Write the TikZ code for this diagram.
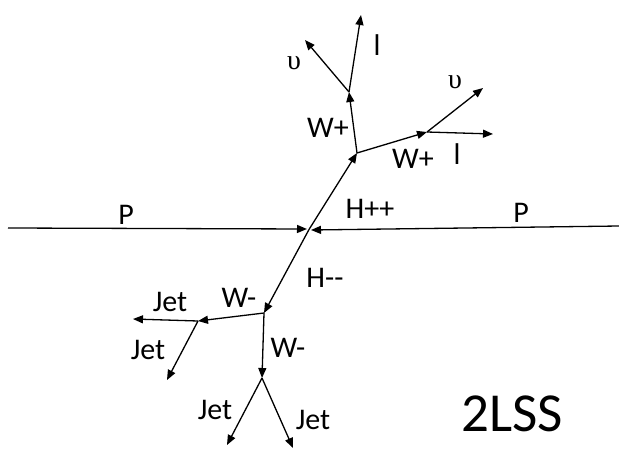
\documentclass[tikz,border=0pt]{standalone}
\usepackage{fontspec}
\setmainfont{Carlito}
\newfontfamily\upsfont{Liberation Serif}
\usetikzlibrary{arrows.meta}
\begin{document}
\begin{tikzpicture}[x=1pt,y=-1pt,
  arr/.style={line width=1.3pt,-{Triangle[length=10pt,width=8pt]}},
  lbl/.style={font=\fontsize{30}{32}\selectfont, inner sep=0pt},
  ups/.style={font=\upsfont\fontsize{28}{30}\selectfont, inner sep=0pt},
  big/.style={font=\fontsize{55}{58}\selectfont, inner sep=0pt}]
\useasboundingbox (0,0) rectangle (619,450);
% protons and collision point
\coordinate (pl) at (8,228);
\coordinate (pr) at (619,226);
\coordinate (v0l) at (307,229);
\coordinate (v0r) at (311,230);
\coordinate (v0) at (309,229.5);
% upper branch
\coordinate (A) at (357,153);
\coordinate (B1) at (349,92);
\coordinate (B2) at (427,132);
\coordinate (nu1) at (305,40);
\coordinate (l1) at (361,15);
\coordinate (nu2) at (483,88);
\coordinate (l2) at (493,134);
% lower branch
\coordinate (C) at (264,313);
\coordinate (D) at (198,321);
\coordinate (E) at (262,378);
\coordinate (j1) at (133,319);
\coordinate (j2) at (167,380);
\coordinate (j3) at (227,445);
\coordinate (j4) at (293,448);

\draw[arr] (pl) -- (v0l);
\draw[arr] (pr) -- (v0r);
\draw[arr] (v0) -- (A);
\draw[arr] (v0) -- (C);
\draw[arr] (A) -- (B1);
\draw[arr] (A) -- (B2);
\draw[arr] (B1) -- (nu1);
\draw[arr] (B1) -- (l1);
\draw[arr] (B2) -- (nu2);
\draw[arr] (B2) -- (l2);
\draw[arr] (C) -- (D);
\draw[arr] (C) -- (E);
\draw[arr] (D) -- (j1);
\draw[arr] (D) -- (j2);
\draw[arr] (E) -- (j3);
\draw[arr] (E) -- (j4);

% labels
\node[lbl] (tP1) at (126,215) {P};
\node[lbl] (tP2) at (521,213) {P};
\node[lbl] (tHpp) at (370,209) {H++};
\node[lbl] (tHmm) at (325,278) {H-{}-};
\node[lbl] (tW1) at (328,128) {W+};
\node[lbl] (tW2) at (413,159) {W+};
\node[ups] (tn1) at (294,63) {υ};
\node[lbl] (tl1) at (377,45) {l};
\node[ups] (tn2) at (455,82) {υ};
\node[lbl] (tl2) at (457,154) {l};
\node[lbl] (tWm1) at (239,298) {W-};
\node[lbl] (tWm2) at (288,348) {W-};
\node[lbl] (tJ1) at (170,302) {Jet};
\node[lbl] (tJ2) at (148,350) {Jet};
\node[lbl] (tJ3) at (215,410) {Jet};
\node[lbl] (tJ4) at (313,420) {Jet};
\node[big] (t2lss) at (512,414) {2LSS};
\end{tikzpicture}
\end{document}
